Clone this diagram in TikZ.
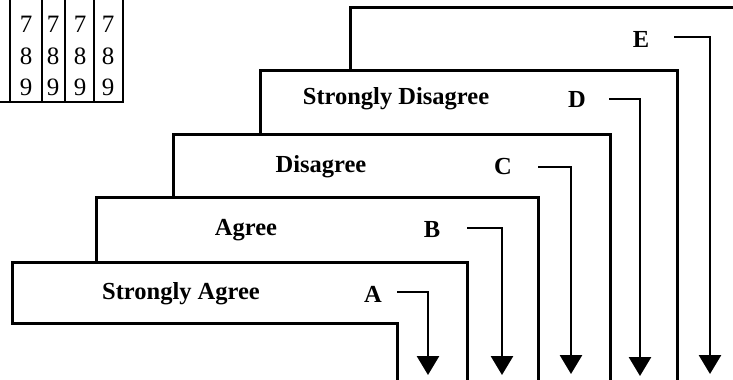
\documentclass[tikz,border=0pt]{standalone}
\usepackage{fontspec}
\setmainfont{Liberation Serif}
\usetikzlibrary{arrows.meta}
\begin{document}
\begin{tikzpicture}[x=1bp,y=-1bp,
  card/.style={draw=black, line width=3bp, fill=white, line join=miter},
  lbl/.style={font=\fontsize{24.5bp}{28bp}\selectfont\bfseries, inner sep=0pt},
  flow/.style={draw=black, line width=2.8bp, -{Triangle[width=22bp,length=19bp]}},
  gridline/.style={draw=black, line width=2.4bp},
  num/.style={font=\fontsize{25bp}{28bp}\selectfont, inner sep=0pt}]
\useasboundingbox (0,0) rectangle (733,379);
\clip (0,0) rectangle (733,379);
% table fragment
\foreach \x in {10,42,65,94,123} \draw[gridline] (\x,-5) -- (\x,102);
\draw[gridline] (-5,102) -- (124.2,102);
\foreach \x/\c in {26/a,53/b,80/c,108/d}{
  \node[num] (r7\c) at (\x,24) {7};
  \node[num] (r8\c) at (\x,56) {8};
  \node[num] (r9\c) at (\x,87) {9};
}
% stacked cards (back to front)
\draw[card] (350,70) -- (350,7) -- (760,7) -- (760,395) -- (677,395) -- (677,70) -- cycle;
\draw[card] (260,134) -- (260,70) -- (677,70) -- (677,395) -- (610,395) -- (610,134) -- cycle;
\draw[card] (173,197) -- (173,134) -- (610,134) -- (610,395) -- (538,395) -- (538,197) -- cycle;
\draw[card] (96,262) -- (96,197) -- (538,197) -- (538,395) -- (467,395) -- (467,262) -- cycle;
\draw[card] (12,323) -- (12,262) -- (467,262) -- (467,395) -- (397,395) -- (397,323) -- cycle;
% texts
\node[lbl] (tA) at (181,294) {Strongly Agree};
\node[lbl] (tB) at (246,230) {Agree};
\node[lbl] (tC) at (321,167) {Disagree};
\node[lbl] (tD) at (396,99) {Strongly Disagree};
\node[lbl] (lA) at (373,294) {A};
\node[lbl] (lB) at (432,230) {B};
\node[lbl] (lC) at (503,167) {C};
\node[lbl] (lD) at (577,99) {D};
\node[lbl] (lE) at (641,39) {E};
% arrows
\coordinate (a0) at (397,292); \coordinate (a1) at (428,375);
\coordinate (b0) at (467,228); \coordinate (b1) at (502,375);
\coordinate (c0) at (538,167); \coordinate (c1) at (571,374);
\coordinate (d0) at (609,99);  \coordinate (d1) at (640,376);
\coordinate (e0) at (674,37);  \coordinate (e1) at (710,374);
\draw[flow] (a0) -| (a1);
\draw[flow] (b0) -| (b1);
\draw[flow] (c0) -| (c1);
\draw[flow] (d0) -| (d1);
\draw[flow] (e0) -| (e1);
\end{tikzpicture}
\end{document}
